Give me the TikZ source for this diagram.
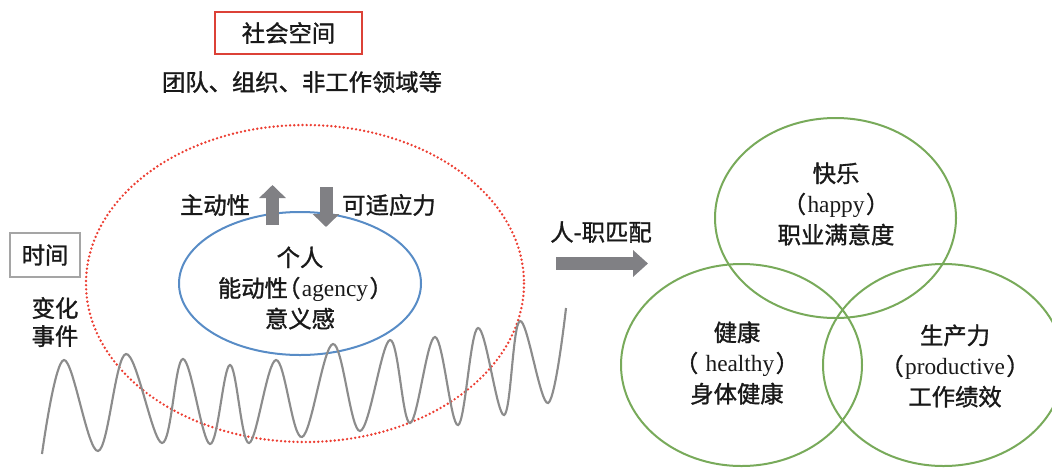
\documentclass[tikz,border=0pt]{standalone}
\usepackage{fontspec}
\setmainfont{Noto Sans CJK SC}[FakeBold=1.3]
\newfontfamily\paltfont{Noto Sans CJK SC}[RawFeature=+palt, FakeBold=1.3]
\newfontfamily\enfont{Liberation Serif}
\usetikzlibrary{arrows.meta}
\definecolor{ink}{RGB}{25,25,25}
\definecolor{boxred}{RGB}{220,65,55}
\definecolor{fieldred}{RGB}{236,62,50}
\definecolor{selfblue}{RGB}{88,140,198}
\definecolor{ringgreen}{RGB}{120,170,90}
\definecolor{arrowgray}{RGB}{128,128,132}
\definecolor{wavegray}{RGB}{140,140,140}
\definecolor{timegray}{RGB}{165,165,165}
\newcommand{\en}[1]{{\paltfont （}\hspace{0.1em}{\enfont #1}\hspace{0.1em}{\paltfont ）}}

\begin{document}
\begin{tikzpicture}[x=0.75pt, y=-0.75pt,
    lbl/.style = {font=\fontsize{17.5}{23}\selectfont, text=ink,
                align=center, inner sep=0pt},
    frame/.style = {lbl, draw=#1, line width=1.6pt},
    blockarrow/.style = {draw=arrowgray, line width=9.75pt,
                -{Triangle[width=19.5pt, length=#1]}},
    blockarrow/.default = 9.75pt,
    ring/.style = {draw=ringgreen, line width=1.5pt}
                    ]
    \useasboundingbox (0,0) rectangle (1052,468);
    \def\cx{305}
    \def\cy{283.5}
    % social space
    \node[frame=boxred, minimum width=110pt, minimum height=31.5pt] at (288.5,33) (space) {社会空间};
    \node[lbl] at (302,82) (spacelist) {团队、组织、非工作领域等};
    \draw[fieldred, line width=2pt, line cap=round, dash pattern=on 0pt off 3.1pt]
        (\cx,\cy) ellipse [x radius=219, y radius=158.5];
    % the self
    \draw[selfblue, line width=1.5pt] (\cx-5,\cy) ellipse [x radius=121, y radius=71.5];
    \node[lbl] at (300,288) (self) {个人\\能动性\en{agency}\\意义感};
    \node[lbl] at (215,205) (proact) {主动性};
    \node[lbl] at (389,205) (adapt) {可适应力};
    \coordinate (up0) at (272.5,225);
    \coordinate (up1) at (272.5,185);
    \coordinate (dn0) at (326,187);
    \coordinate (dn1) at (326,227);
    \draw[blockarrow] (up0) -- (up1);
    \draw[blockarrow] (dn0) -- (dn1);
    % time
    \node[frame=timegray, line width=2pt, minimum width=52.5pt, minimum height=33pt] at (45,255) (time) {时间};
    \node[lbl, font=\fontsize{17.5}{21}\selectfont] at (55,322) (events) {变化\\事件};
    \draw[wavegray, line width=1.6pt] plot[smooth, tension=0.6] coordinates {
        (42,454) (64,360) (98,451) (126,354) (162,443) (183,359) (210,444)
        (230,365) (249,443) (276,360) (302,437) (333,344) (360,431) (390,340)
        (410,423) (435,337) (458,425) (478,328) (504,415) (520,321) (548,403)
        (566,308)};
    % person-job fit
    \node[lbl] at (601,232) (fit) {人-职匹配};
    \coordinate (fit0) at (556,263.5);
    \coordinate (fit1) at (648,263.5);
    \draw[blockarrow=11.25pt] (fit0) -- (fit1);
    % outcomes
    \draw[ring] (835.5,218) ellipse [x radius=120.5, y radius=100];
    \draw[ring] (741.5,365) ellipse [x radius=120.5, y radius=101];
    \draw[ring] (943.5,365) ellipse [x radius=120.5, y radius=101];
    \node[lbl] at (836,204) (happy) {快乐\\\en{happy}\\职业满意度};
    \node[lbl] at (737,363) (health) {健康\\\en{ healthy}\\身体健康};
    \node[lbl] at (955,366) (prod) {生产力\\\en{productive}\\工作绩效};
\end{tikzpicture}
\end{document}
